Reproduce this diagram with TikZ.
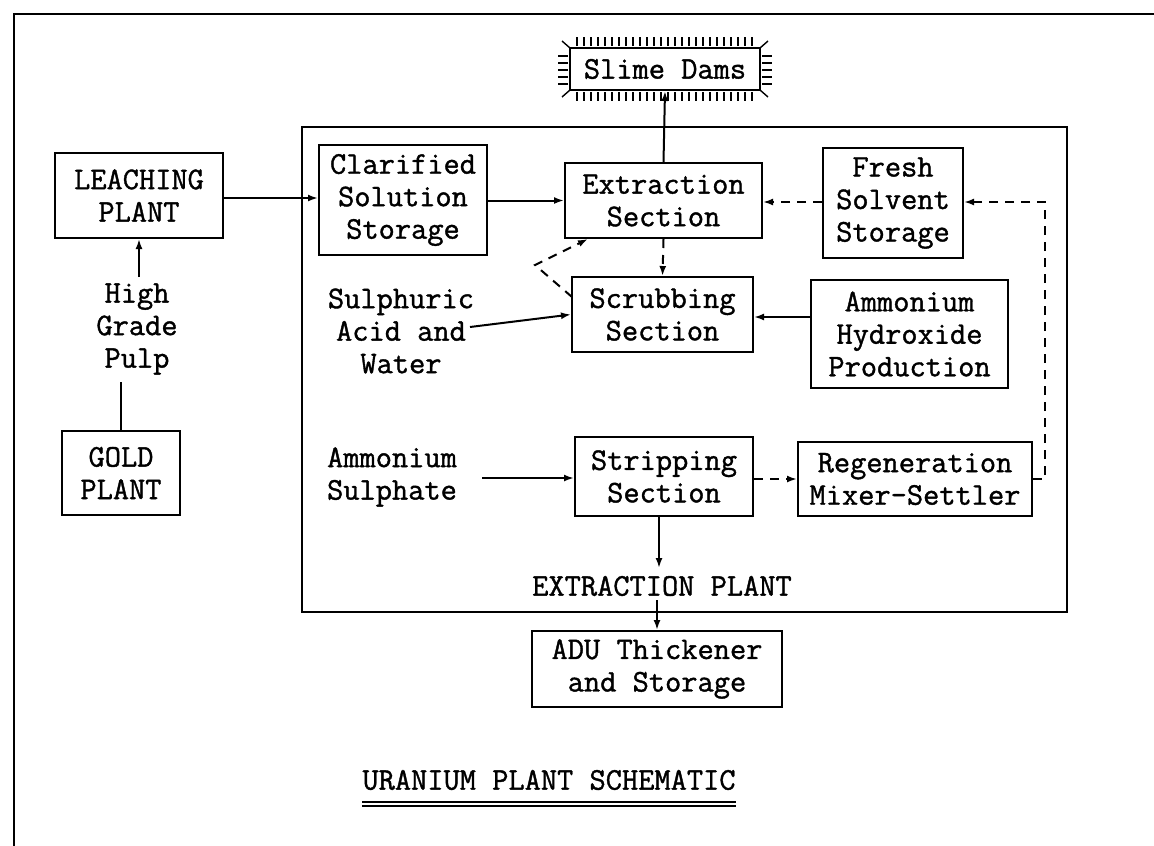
\documentclass[tikz,border=0pt]{standalone}
\usepackage{fontspec}
\newfontfamily\tw{Latin Modern Mono}[FakeBold=1.2]
\usetikzlibrary{arrows.meta,calc}
\begin{document}
\begin{tikzpicture}[x=1pt,y=-1pt,
  every node/.style={font=\tw\fontsize{31.5}{32.5}\selectfont, align=center, inner sep=0pt},
  box/.style={draw, line width=2pt},
  arr/.style={line width=2pt, -{Latex[length=10pt,width=7pt]}},
  dline/.style={line width=2pt, dash pattern=on 9pt off 7pt},
  darr/.style={dline, -{Latex[length=10pt,width=7pt]}},
  plain/.style={line width=2pt},
  tick/.style={line width=1.4pt}]
\useasboundingbox (0,0) rectangle (1154,846);
% outer frame
\draw[line width=2.2pt] (14,846) -- (14,14) -- (1154,14);
% extraction plant frame
\draw[line width=2.2pt] (302,127) rectangle (1067,612);

% nodes
\node[box, minimum width=168, minimum height=85] (leach) at (139,195.5) {LEACHING\\PLANT};
\node[box, minimum width=118, minimum height=84] (gold) at (121,473) {GOLD\\PLANT};
\node (pulp) at (137,329) {High\\Grade\\Pulp};
\node[box, minimum width=168, minimum height=110] (clar) at (403,200) {Clarified\\Solution\\Storage};
\node[box, minimum width=197, minimum height=75] (extr) at (663.5,200.5) {Extraction\\Section};
\node[box, minimum width=140, minimum height=110] (fresh) at (893,203) {Fresh\\Solvent\\Storage};
\node[box, minimum width=181, minimum height=75] (scrub) at (662.5,314.5) {Scrubbing\\Section};
\node[box, minimum width=197, minimum height=108] (ammhyd) at (909.5,334) {Ammonium\\Hydroxide\\Production};
\node[box, minimum width=178, minimum height=79] (strip) at (664,476.5) {Stripping\\Section};
\node[box, minimum width=234, minimum height=74] (regen) at (915,479) {Regeneration\\Mixer-Settler};
\node[box, minimum width=250, minimum height=76] (adu) at (657,669) {ADU Thickener\\and Storage};
\node[box, minimum width=190, minimum height=42] (slime) at (665,69) {Slime Dams};
\node (sulph) at (401,331) {Sulphuric\\Acid and\\Water};
\node (asulph) at (392,477) {Ammonium\\Sulphate};
\node (eplant) at (662,586) {EXTRACTION PLANT};
\node (title) at (549,780) {URANIUM PLANT SCHEMATIC};

% title underline
\draw[line width=2.4pt] ($(title.south west)+(0,12)$) -- ($(title.south east)+(0,12)$);
\draw[line width=1.6pt] ($(title.south west)+(0,16)$) -- ($(title.south east)+(0,16)$);

% slime dams hatching
\foreach \x in {577,584,...,755} \draw[tick] (\x,46) -- (\x,37);
\foreach \x in {577,584,...,755} \draw[tick] (\x,92) -- (\x,101);
\foreach \y in {56,63,...,84} \draw[tick] (568,\y) -- (558,\y);
\foreach \y in {56,63,...,84} \draw[tick] (762,\y) -- (772,\y);
\draw[tick] (570,48) -- (562,41);
\draw[tick] (760,48) -- (768,41);
\draw[tick] (570,90) -- (562,97);
\draw[tick] (760,90) -- (768,97);

% coordinates for free ends
\coordinate (loopB) at (1045,479);
\coordinate (loopT) at (1045,202);
\coordinate (sulE) at (470,327);
\coordinate (asE) at (482,478);
\coordinate (zs) at (572,297);
\coordinate (zm) at (535,265);
\coordinate (ze) at (588,239);
\coordinate (stripEnd) at (659,568);
\coordinate (aduStart) at (657,600);
\coordinate (pulpTop) at (139,277);

% connectors
\draw[arr] (leach.east |- 0,198) -- (clar.west |- 0,198);
\draw[arr] (clar.east |- extr.west) -- (extr.west);
\draw[darr] (fresh.west |- 0,202) -- (extr.east |- 0,202);
\draw[darr] (regen.east) -- (loopB) -- (loopT) -- (fresh.east |- loopT);
\draw[arr] (ammhyd.west |- 0,317) -- (scrub.east |- 0,317);
\draw[arr] (sulE) -- (scrub.west);
\draw[darr] (extr.south) -- (scrub.north);
\draw[darr] (zs) -- (zm) -- (ze);
\draw[arr] (asE) -- (asE -| strip.west);
\draw[darr] (strip.east |- regen.west) -- (regen.west);
\draw[arr] (strip.south -| stripEnd) -- (stripEnd);
\draw[arr] (aduStart) -- (adu.north);
\draw[arr] (extr.north) -- (slime.south);
\draw[arr] (pulpTop) -- (leach.south);
\draw[plain] (gold.north) -- (gold.north |- 0,382);
\end{tikzpicture}
\end{document}
